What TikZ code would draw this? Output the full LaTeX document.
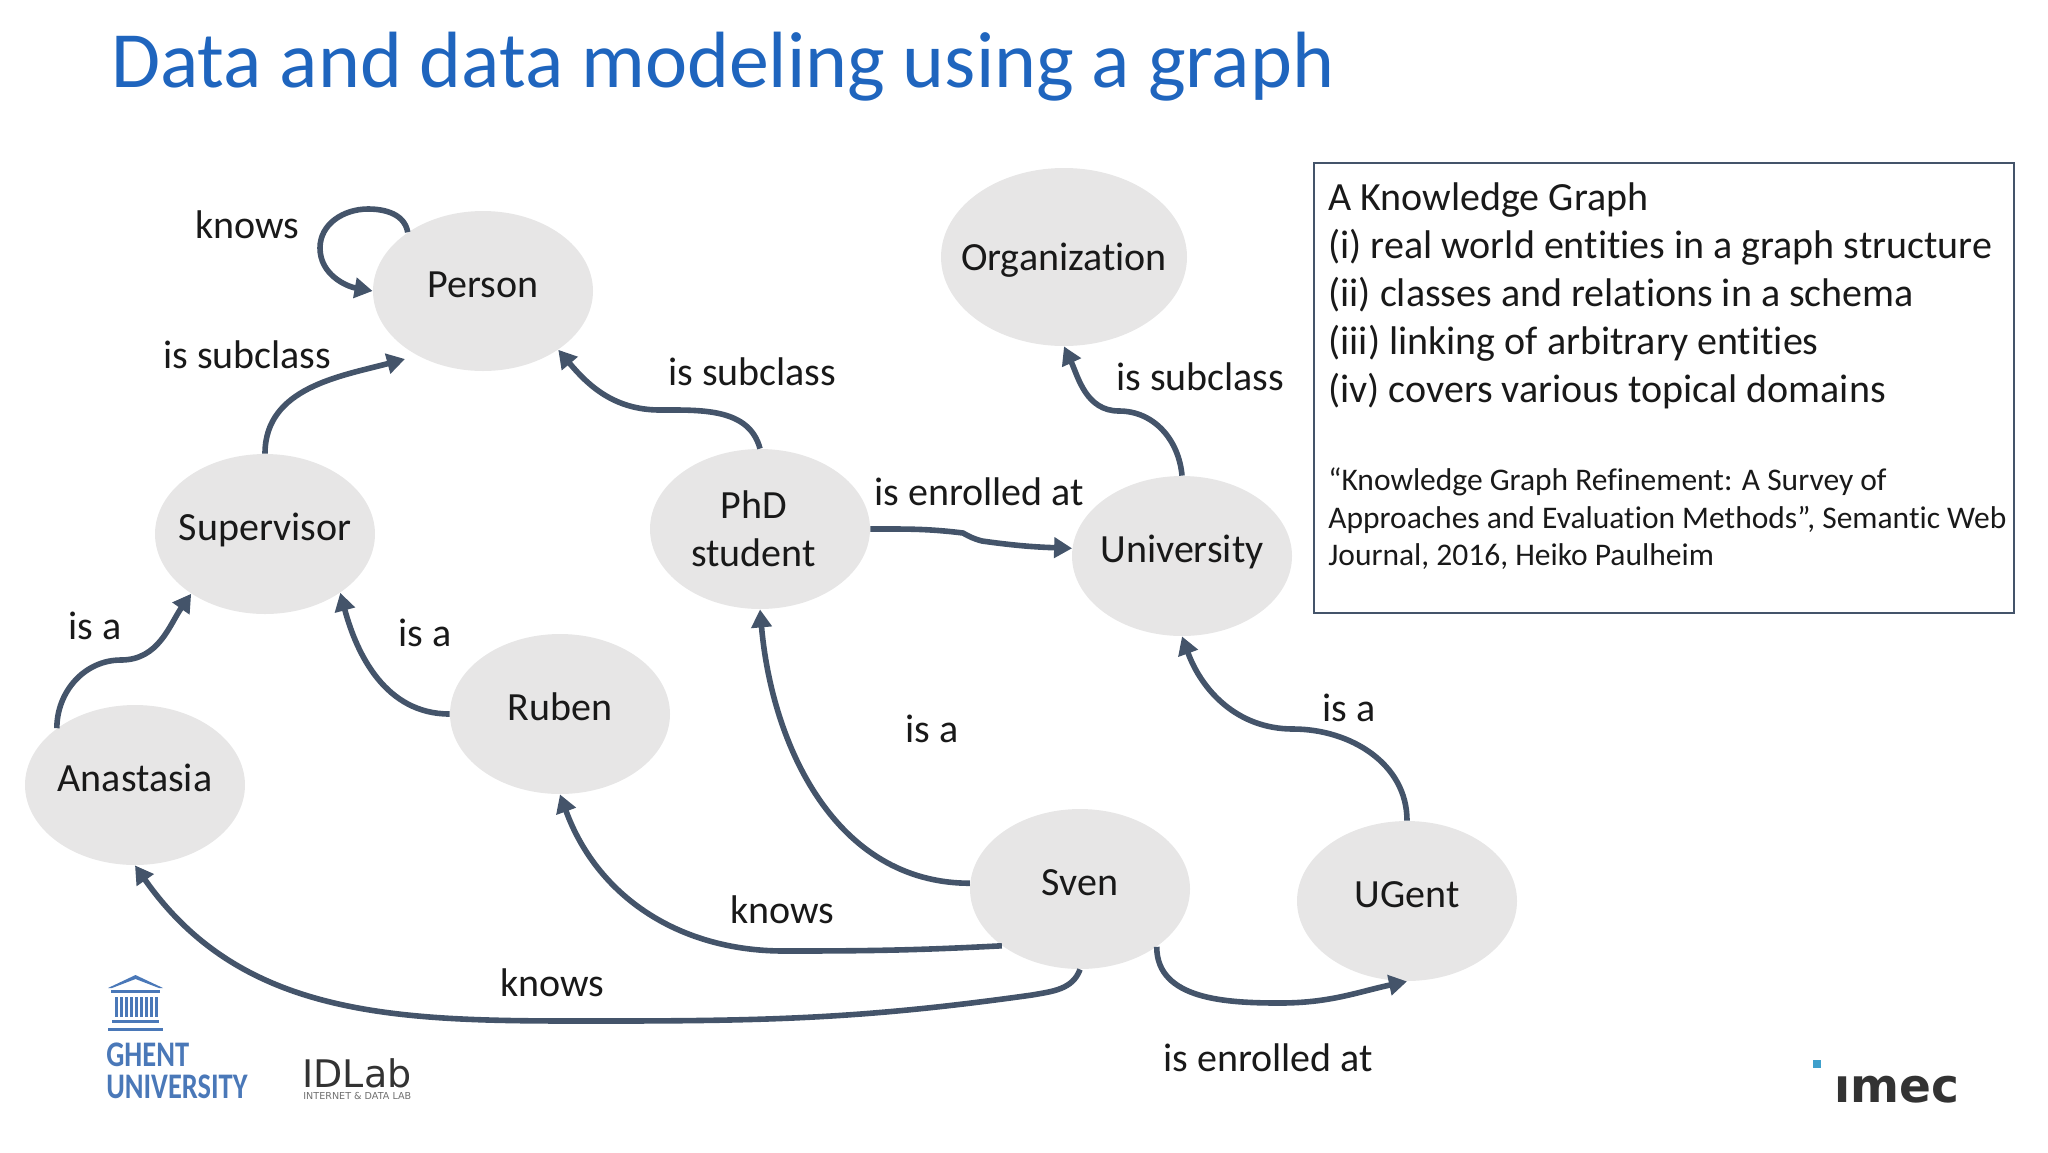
\documentclass[tikz,border=0pt]{standalone}
\usepackage{fontspec}
\setmainfont{Carlito}[Ligatures=NoCommon]
\newfontfamily\logofont{DejaVu Sans}
\usetikzlibrary{arrows.meta}
\usetikzlibrary{shapes.geometric}
\definecolor{titleblue}{HTML}{1F65BE}
\definecolor{ellipsegrey}{HTML}{E7E6E6}
\definecolor{edgeslate}{HTML}{44546A}
\definecolor{ghentblue}{HTML}{4A78B8}
\definecolor{imecblue}{HTML}{3FA0CC}
\definecolor{labgrey}{HTML}{333333}
\tikzset{
  entity/.style={ellipse, fill=ellipsegrey, minimum width=110pt, minimum height=80pt, inner xsep=-8pt, inner ysep=-4pt, align=center, text=black!90, font=\fontsize{20}{24}\selectfont},
  oneline/.style={text height=14pt, text depth=8pt},
  relation/.style={draw=edgeslate, line width=2.8pt, -{Triangle[width=10pt,length=9pt]}},
  rellabel/.style={text=black!90, font=\fontsize{20}{24}\selectfont, inner sep=0pt, xshift=0.6pt},
  ghentbar/.style={fill=ghentblue, draw=none},
}
\begin{document}
\begin{tikzpicture}[x=0.5pt, y=-0.5pt]
\useasboundingbox (0,0) rectangle (2048,1152);

\node (title) [anchor=west, inner sep=0pt, text=titleblue, font=\fontsize{39.9}{48}\selectfont] at (111,67) {Data and data modeling using a graph};

\node (Person) [entity, oneline] at (483,291) {Person};
\node (Organization) [entity, text height=14pt, text depth=0.5pt, minimum width=121pt, minimum height=89pt] at (1064,257) {Organization};
\node (Supervisor) [entity, oneline] at (265,534) {Supervisor};
\node (PhD) [entity] at (760,529) {PhD\hspace*{6.5pt}\\student\hspace*{6.5pt}};
\node (University) [entity, oneline] at (1182,556) {University};
\node (Ruben) [entity, oneline] at (560,714) {Ruben};
\node (Anastasia) [entity, oneline] at (135,785) {Anastasia};
\node (Sven) [entity, oneline] at (1080,889) {Sven};
\node (UGent) [entity, oneline] at (1407,901) {UGent};

\coordinate (loopTop) at (368,209);
\coordinate (loopLeft) at (320,248);
\coordinate (personTip) at (405,359);
\coordinate (anastasiaBend) at (121,660);
\coordinate (phdBend) at (660,410);
\coordinate (universityBend) at (1119,411);
\coordinate (enrolledBend) at (963,533);
\coordinate (enrolledBendEnd) at (982,541);
\coordinate (rubenBend) at (784,951);
\coordinate (sweepStart) at (1032,995);
\coordinate (sweepBend) at (601,1021);
\coordinate (ugentBend) at (1280,1003);
\coordinate (schoolBend) at (1293,729);

\draw [relation] (Person.142) to [out=100, in=0] (loopTop) to [out=180, in=90] (loopLeft) to [out=-90, in=170] (Person.west);
\draw [relation] (Supervisor.north) to [out=90, in=195] (personTip);
\draw [relation] (Anastasia.144) to [out=90, in=180] (anastasiaBend) to [out=0, in=-125] (Supervisor.219);
\draw [relation] (Ruben.west) to [out=180, in=-75] (Supervisor.322);
\draw [relation] (PhD.north) to [out=105, in=0] (phdBend) to [out=180, in=-50] (Person.322);
\draw [relation] (University.north) to [out=95, in=0] (universityBend) to [out=180, in=-65] (Organization.south);
\draw [relation] (PhD.east) to [out=0, in=173] (enrolledBend) to [out=-30, in=165] (enrolledBendEnd) to [out=-8, in=178] (University.176);
\draw [relation] (Sven.177) to [out=180, in=-85] (PhD.south);
\draw [relation] (Sven.216) to [out=183, in=0] (rubenBend) to [out=180, in=-70] (Ruben.south);
\draw [relation] (Sven.south) to [out=-110, in=10] (sweepStart) to [out=188, in=0] (sweepBend) to [out=180, in=-55] (Anastasia.south);
\draw [relation] (Sven.323) to [out=-90, in=180] (ugentBend) to [out=0, in=192] (UGent.south);
\draw [relation] (UGent.north) to [out=90, in=0] (schoolBend) to [out=180, in=-70] (University.south);

\node (knowsSelf) [rellabel] at (246,225) {knows};
\node (subPerson) [rellabel] at (246,355) {is subclass};
\node (subPhd) [rellabel] at (751,372) {is subclass};
\node (subUni) [rellabel] at (1199,377) {is subclass};
\node (enrolledPhd) [rellabel] at (978,492) {is enrolled at};
\node (isaAnastasia) [rellabel] at (94,626) {is a};
\node (isaRuben) [rellabel] at (424,633) {is a};
\node (isaSven) [rellabel] at (931,729) {is a};
\node (isaUgent) [rellabel] at (1348,708) {is a};
\node (knowsRuben) [rellabel] at (781,910) {knows};
\node (knowsAnastasia) [rellabel] at (551,983) {knows};
\node (enrolledSven) [rellabel] at (1267,1058) {is enrolled at};

\node (infobox) [draw=edgeslate, line width=1pt, minimum width=350pt, minimum height=225pt, inner sep=0pt] at (1663.5,387.5) {};
\node (infomain) [anchor=north west, inner sep=0pt, align=left, text=black!90, font=\fontsize{20}{24}\selectfont] at (1328,182.5) {A Knowledge Graph\\(i) real world entities in a graph structure\\(ii) classes and relations in a schema\\(iii) linking of arbitrary entities\\(iv) covers various topical domains};
\node (infocite) [anchor=north west, inner sep=0pt, align=left, text=black!90, font=\fontsize{15.75}{18.8}\selectfont] at (1328,467.5) {“Knowledge Graph Refinement: A Survey of\\Approaches and Evaluation Methods”, Semantic Web\\Journal, 2016, Heiko Paulheim};

\fill [ghentbar] (108,988) -- (135.5,975) -- (163,988) -- (159,988) -- (135.5,979) -- (112,988) -- cycle;
\fill [ghentbar] (111,990) rectangle (160,993);
\foreach \x in {115,120,125,130,135,140,145,150,155} {
  \fill [ghentbar] (\x,997) rectangle ++(3,20);
}
\fill [ghentbar] (112,1020) rectangle (159,1023);
\fill [ghentbar] (108,1028) rectangle (163,1031);
\node (ghent) [anchor=west, inner sep=0pt, xscale=0.79, text=ghentblue, font=\fontsize{18}{20}\bfseries\selectfont] at (106,1055) {GHENT};
\node (ugentlogo) [anchor=west, inner sep=0pt, xscale=0.79, text=ghentblue, font=\fontsize{18}{20}\bfseries\selectfont] at (106,1087) {UNIVERSITY};

\node (idlab) [anchor=west, inner sep=0pt, text=labgrey, font=\logofont\fontsize{19}{22}\selectfont] at (302,1073) {IDLab};
\node (idlabsub) [anchor=west, inner sep=0pt, text=labgrey!70, font=\logofont\fontsize{4.8}{5}\selectfont] at (303,1096) {INTERNET \& DATA LAB};

\fill [imecblue] (1813,1060) rectangle (1821,1068);
\node (imec) [anchor=base west, inner sep=0pt, text=labgrey, font=\logofont\bfseries\fontsize{23.5}{28}\selectfont] at (1834,1102) {ımec};
\end{tikzpicture}
\end{document}
